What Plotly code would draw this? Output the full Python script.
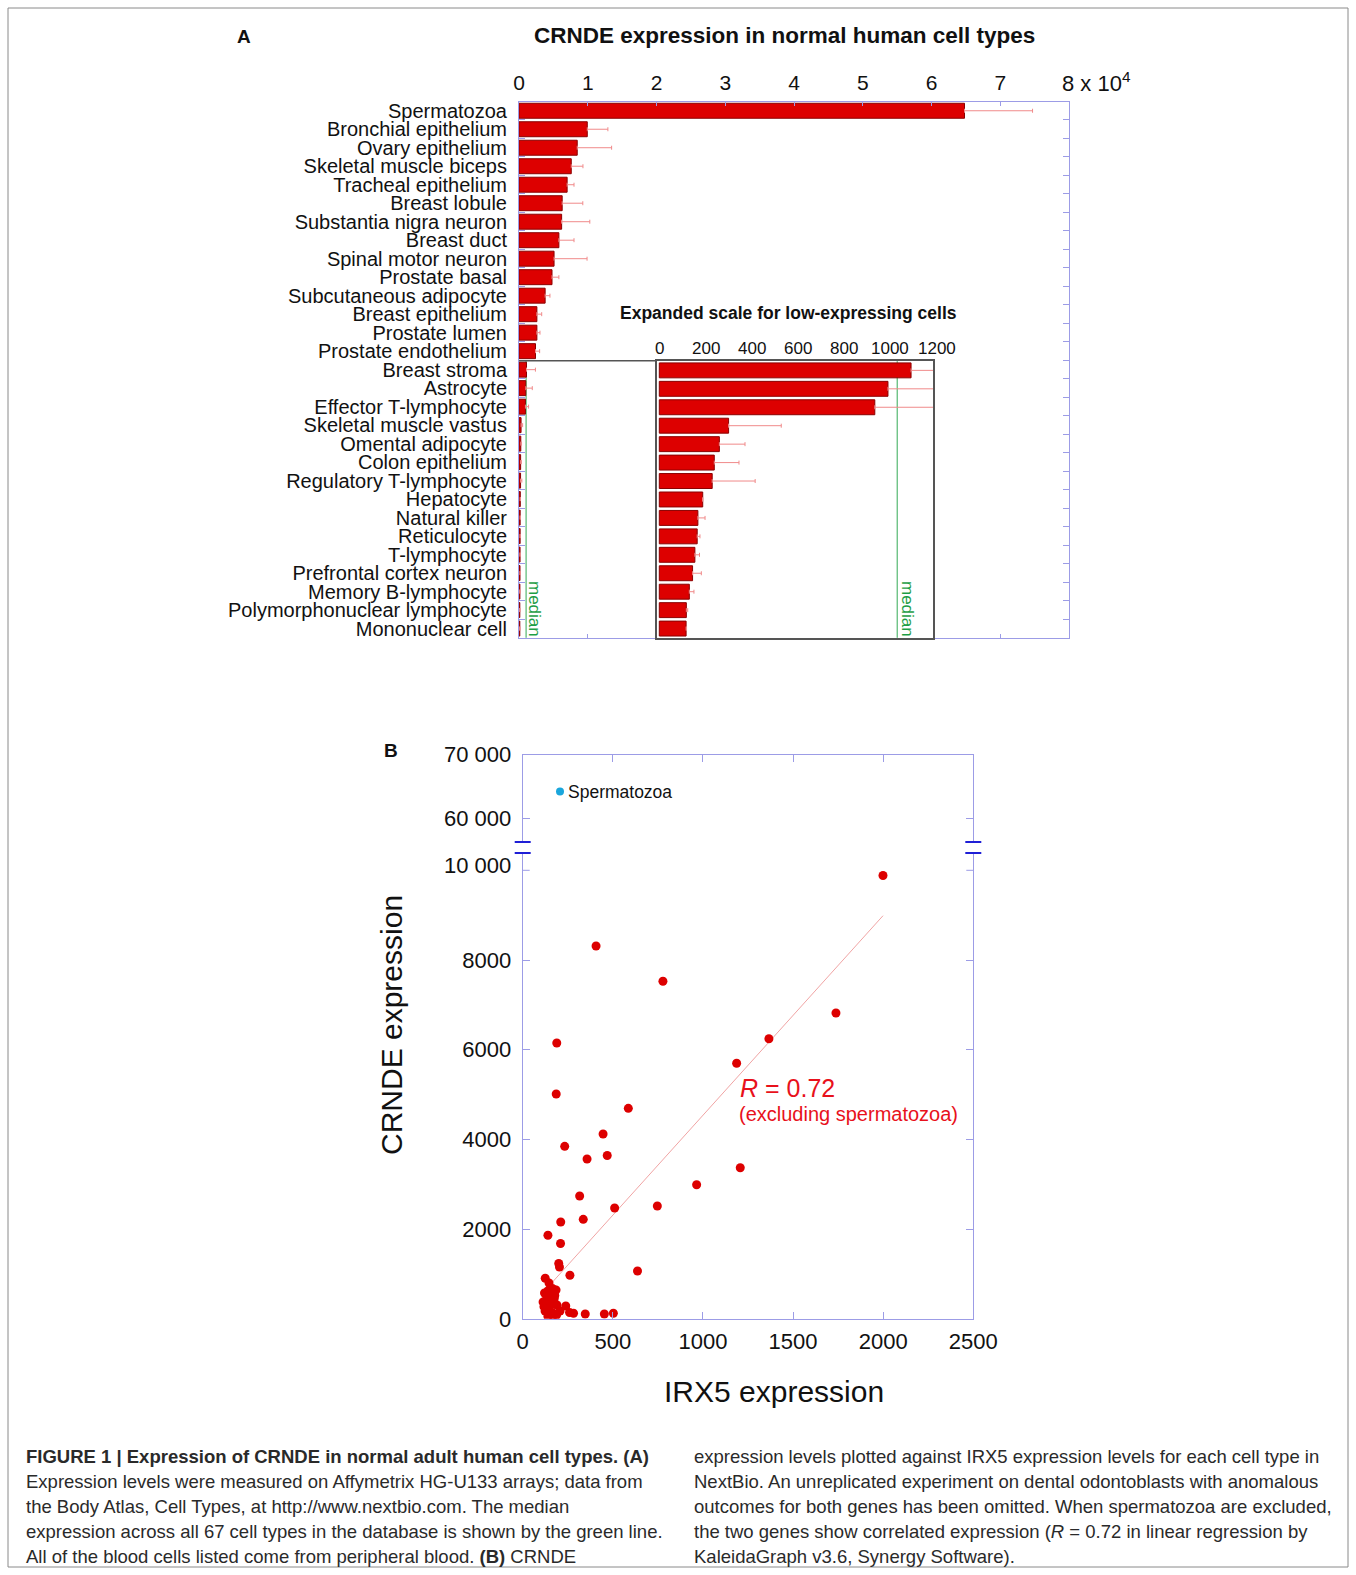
import plotly.graph_objects as go

W, H = 1356, 1575

# ---------------- data: panel A ----------------
cell_types = [
    "Spermatozoa", "Bronchial epithelium", "Ovary epithelium", "Skeletal muscle biceps",
    "Tracheal epithelium", "Breast lobule", "Substantia nigra neuron", "Breast duct",
    "Spinal motor neuron", "Prostate basal", "Subcutaneous adipocyte", "Breast epithelium",
    "Prostate lumen", "Prostate endothelium", "Breast stroma", "Astrocyte",
    "Effector T-lymphocyte", "Skeletal muscle vastus", "Omental adipocyte", "Colon epithelium",
    "Regulatory T-lymphocyte", "Hepatocyte", "Natural killer", "Reticulocyte", "T-lymphocyte",
    "Prefrontal cortex neuron", "Memory B-lymphocyte", "Polymorphonuclear lymphocyte",
    "Mononuclear cell",
]
crnde_mean = [64800, 9930, 8470, 7600, 7000, 6280, 6200, 5800, 5100, 4800, 3800, 2600,
              2600, 2400, 1090, 990, 933, 300, 260, 238, 229, 188, 167, 164, 154, 144,
              130, 117, 116]
crnde_err = [9900, 3000, 5000, 1700, 1000, 3000, 4100, 2200, 4800, 1000, 700, 700,
             450, 600, 1300, 940, 460, 228, 111, 107, 186, 0, 31, 12, 20, 38, 20, 6, 2]
median_crnde = 1030
n_high = 14  # cells not shown in expanded inset

main_ticks = [0, 10000, 20000, 30000, 40000, 50000, 60000, 70000]
main_ticktext = ["0", "1", "2", "3", "4", "5", "6", "7"]
inset_ticks = [0, 200, 400, 600, 800, 1000]
inset_ticktext = ["0", "200", "400", "600", "800", "1000"]

# ---------------- data: panel B ----------------
irx5_expr = [1999, 407, 778, 1738, 1366, 1187, 189, 186, 586, 446, 233, 357, 469, 1207,
             965, 316, 510, 747, 211, 336, 140, 210, 200, 204, 637, 125, 262, 139, 165,
             178, 132, 175, 118, 152, 138, 165, 188, 239, 260, 282, 347, 453, 503,
             146, 121, 157, 124, 190, 168, 140, 207, 113, 185, 154]
crnde_expr = [9884, 8312, 7525, 6818, 6245, 5697, 6149, 5012, 4693, 4120, 3846, 3563,
              3641, 3369, 2990, 2738, 2470, 2515, 2158, 2218, 1864, 1679, 1233, 1155,
              1066, 905, 970, 620, 676, 520, 435, 453, 270, 285, 158, 134, 85, 285, 140,
              123, 107, 107, 123, 798, 575, 397, 174, 308, 62, 51, 174, 375, 642, 508]
sperm_irx5 = [207]
sperm_crnde = [64200]
fit_irx5 = [139, 1999]
fit_crnde = [702, 8988]

scatter_xticks = [0, 500, 1000, 1500, 2000, 2500]
scatter_xticktext = ["0", "500", "1000", "1500", "2000", "2500"]
scatter_yticks_low = [0, 2000, 4000, 6000, 8000]
scatter_yticktext_low = ["0", "2000", "4000", "6000", "8000"]
scatter_ytick_top_low = 10000
scatter_yticks_high = [60000, 70000]
scatter_yticktext_high = ["60 000", "70 000"]


def px(x):
    return x / W


def py(y):
    return 1 - y / H


FONT = "Liberation Sans, Arial, Helvetica, sans-serif"
AX = "#9c9ce6"
RED = "#dd0000"
EDGE = "#8a0000"
ERR = "#f08a8a"
GREEN = "#33aa55"

fig = go.Figure()

# ---- main bar chart ----
fig.add_trace(go.Bar(
    y=cell_types, x=crnde_mean, orientation="h",
    marker=dict(color=RED, line=dict(color=EDGE, width=1)),
    error_x=dict(type="data", array=crnde_err, arrayminus=[0] * len(crnde_err),
                 symmetric=False, color=ERR, thickness=1, width=2),
    xaxis="x", yaxis="y", showlegend=False,
))

# ---- inset bar chart ----
fig.add_trace(go.Bar(
    y=cell_types[n_high:], x=crnde_mean[n_high:], orientation="h",
    marker=dict(color=RED, line=dict(color=EDGE, width=1)),
    error_x=dict(type="data", array=crnde_err[n_high:],
                 arrayminus=[0] * len(crnde_err[n_high:]),
                 symmetric=False, color=ERR, thickness=1, width=2),
    xaxis="x2", yaxis="y2", showlegend=False,
))

# ---- scatter lower segment ----
fig.add_trace(go.Scatter(
    x=fit_irx5, y=fit_crnde, mode="lines",
    line=dict(color="#f0a4a4", width=1),
    xaxis="x3", yaxis="y3", showlegend=False,
))
fig.add_trace(go.Scatter(
    x=irx5_expr, y=crnde_expr, mode="markers",
    marker=dict(color=RED, size=9, line=dict(width=0)),
    xaxis="x3", yaxis="y3", showlegend=False,
))
# ---- scatter upper segment ----
fig.add_trace(go.Scatter(
    x=sperm_irx5, y=sperm_crnde, mode="markers",
    marker=dict(color="#1aa6dc", size=8, line=dict(width=0)),
    xaxis="x4", yaxis="y4", showlegend=False,
))

main_top, main_bot = 101.5, 638.3
row_h = (main_bot - main_top) / len(cell_types)
inset_top = main_top + n_high * row_h
inset_left, inset_right = 657, 933
main_left, main_right = 519, 1069

sc_left, sc_right = 522.7, 973.3
sc_bot = 1318.8
px_per_unit_low = 0.04485
low_top = 853
up_bot, up_top = 842, 754.5
up_px_per_unit = 0.0064

tickfont_main = dict(family=FONT, size=21, color="#111")
tickfont_sc = dict(family=FONT, size=22, color="#111")

common = dict(automargin=False, showgrid=False, zeroline=False)

fig.update_layout(
    template="none",
    width=W, height=H, autosize=False,
    margin=dict(l=0, r=0, t=0, b=0, pad=0),
    paper_bgcolor="white", plot_bgcolor="white",
    font=dict(family=FONT, color="#111"),
    bargap=0.19,
    xaxis=dict(
        domain=[px(main_left), px(main_right)], range=[0, 80000], side="top",
        tickmode="array", tickvals=main_ticks, ticktext=main_ticktext,
        tickfont=tickfont_main,
        ticks="inside", ticklen=4, tickcolor=AX, showline=True, linecolor=AX,
        mirror="ticks", anchor="y", ticklabelstandoff=2, **common,
    ),
    yaxis=dict(
        domain=[py(main_bot), py(main_top)], autorange="reversed",
        type="category", tickmode="array", tickvals=cell_types, ticktext=cell_types,
        tickfont=dict(family=FONT, size=20, color="#111"),
        ticks="inside", ticklen=6, tickcolor=AX, tickson="boundaries",
        showline=True, linecolor=AX, mirror="ticks",
        anchor="x", ticklabelstandoff=7, **common,
    ),
    xaxis2=dict(
        domain=[px(inset_left), px(inset_right)], range=[-10, 1185], side="top",
        showticklabels=False,
        ticks="", ticklen=0, showline=True, linecolor="#555", linewidth=1.5, mirror=True,
        anchor="y2", **common,
    ),
    yaxis2=dict(
        domain=[py(main_bot), py(inset_top)], autorange="reversed", type="category",
        showticklabels=False, ticks="", showline=True, linecolor="#555",
        linewidth=1.5, mirror=True, anchor="x2", **common,
    ),
    xaxis3=dict(
        domain=[px(sc_left), px(sc_right)], range=[0, 2500],
        tickmode="array", tickvals=scatter_xticks, ticktext=scatter_xticktext,
        tickfont=tickfont_sc,
        ticks="inside", ticklen=7, tickcolor=AX, showline=True, linecolor=AX,
        anchor="y3", ticklabelstandoff=3, **common,
    ),
    yaxis3=dict(
        domain=[py(sc_bot), py(low_top)],
        range=[0, (sc_bot - low_top) / px_per_unit_low],
        tickmode="array", tickvals=scatter_yticks_low, ticktext=scatter_yticktext_low,
        tickfont=tickfont_sc, ticks="inside", ticklen=7, tickcolor=AX,
        showline=True, linecolor=AX, mirror="ticks",
        anchor="x3", ticklabelstandoff=6, **common,
    ),
    xaxis4=dict(
        domain=[px(sc_left), px(sc_right)], range=[0, 2500], side="top",
        tickmode="array", tickvals=scatter_xticks, showticklabels=False,
        ticks="inside", ticklen=7, tickcolor=AX, showline=True, linecolor=AX,
        anchor="y4", **common,
    ),
    yaxis4=dict(
        domain=[py(up_bot), py(up_top)],
        range=[60000 - (up_bot - 818.5) / up_px_per_unit, 70000],
        tickmode="array", tickvals=scatter_yticks_high, ticktext=scatter_yticktext_high,
        tickfont=tickfont_sc, ticks="inside", ticklen=7, tickcolor=AX,
        showline=True, linecolor=AX, mirror="ticks",
        anchor="x4", ticklabelstandoff=6, **common,
    ),
)

shapes = []
# median lines
shapes.append(dict(type="line", xref="x", yref="y", x0=median_crnde, x1=median_crnde,
                   y0=n_high - 0.5, y1=len(cell_types) - 0.5,
                   line=dict(color=GREEN, width=1), layer="below"))
shapes.append(dict(type="line", xref="x2", yref="y2", x0=median_crnde, x1=median_crnde,
                   y0=-0.5, y1=len(cell_types) - n_high - 0.5,
                   line=dict(color=GREEN, width=1), layer="below"))
# inset top line extending to main axis
shapes.append(dict(type="line", xref="paper", yref="paper", x0=px(main_left), x1=px(inset_left),
                   y0=py(inset_top), y1=py(inset_top), line=dict(color="#555", width=1.5)))
# 10 000 tick marks on the lower scatter segment (left and right, inside)
for xbase, xa, xb in ((px(sc_left), 0, 7), (px(sc_right), -7, 0)):
    shapes.append(dict(type="line", xref="paper", yref="y3",
                       x0=xbase + xa / W, x1=xbase + xb / W,
                       y0=scatter_ytick_top_low, y1=scatter_ytick_top_low,
                       line=dict(color=AX, width=1)))
# axis break marks
for yy in (up_bot, low_top):
    for (a, b) in ((sc_left - 8, sc_left + 8), (sc_right - 8, sc_right + 8)):
        shapes.append(dict(type="line", xref="paper", yref="paper", x0=px(a), x1=px(b),
                           y0=py(yy), y1=py(yy), line=dict(color="#1f1fd6", width=2)))
# figure border
shapes.append(dict(type="rect", xref="paper", yref="paper", x0=px(8), x1=px(1348),
                   y0=py(1567), y1=py(8), line=dict(color="#8a8a8a", width=1)))
fig.update_layout(shapes=shapes)

ann = []


def add_text(text, x, y, size, xanchor="center", bold=False, color="#111", angle=0,
             yanchor="middle"):
    if bold:
        text = "<b>" + text + "</b>"
    ann.append(dict(text=text, x=px(x), y=py(y), xref="paper", yref="paper",
                    xanchor=xanchor, yanchor=yanchor, showarrow=False, textangle=angle,
                    font=dict(family=FONT, size=size, color=color)))


add_text("A", 244, 37, 19, bold=True)
add_text("CRNDE expression in normal human cell types", 784, 35, 22.5, bold=True)
add_text("8 x 10<sup>4</sup>", 1060, 82, 22, xanchor="left")
add_text("Expanded scale for low-expressing cells", 788, 313, 17.5, bold=True)
# inset tick labels (placed on the inset's own x scale)
for v, t in zip(inset_ticks, inset_ticktext):
    ann.append(dict(text=t, x=v, y=py(348), xref="x2", yref="paper",
                    xanchor="center", yanchor="middle", showarrow=False,
                    font=dict(family=FONT, size=17, color="#111")))
add_text("1200", 937, 348, 17)
add_text("median", 535, 609, 17, color="#1e9e46", angle=90)
add_text("median", 908, 609, 17, color="#1e9e46", angle=90)

add_text("B", 391, 750, 19, bold=True)
add_text(f"{scatter_ytick_top_low // 1000} 000", 513, 866, 22, xanchor="right")
add_text("CRNDE expression", 391, 1025, 30, angle=-90)
add_text("IRX5 expression", 774, 1391, 30)
ann.append(dict(text="Spermatozoa", x=sperm_irx5[0], y=sperm_crnde[0], xref="x4", yref="y4",
                xanchor="left", yanchor="middle", xshift=6, showarrow=False,
                font=dict(family=FONT, size=17.5, color="#111")))
add_text("<i>R</i> = 0.72", 738, 1088, 25, xanchor="left", color="#e8111b")
add_text("(excluding spermatozoa)", 737, 1114, 20, xanchor="left", color="#e8111b")

# caption
cap_left = [
    "<b>FIGURE 1 | Expression of CRNDE in normal adult human cell types. (A)</b>",
    "Expression levels were measured on Affymetrix HG-U133 arrays; data from",
    "the Body Atlas, Cell Types, at http://www.nextbio.com. The median",
    "expression across all 67 cell types in the database is shown by the green line.",
    "All of the blood cells listed come from peripheral blood. <b>(B)</b> CRNDE",
]
cap_right = [
    "expression levels plotted against IRX5 expression levels for each cell type in",
    "NextBio. An unreplicated experiment on dental odontoblasts with anomalous",
    "outcomes for both genes has been omitted. When spermatozoa are excluded,",
    "the two genes show correlated expression (<i>R</i> = 0.72 in linear regression by",
    "KaleidaGraph v3.6, Synergy Software).",
]
for i, line in enumerate(cap_left):
    add_text(line, 24, 1456 + 25 * i, 18.5, xanchor="left", color="#2a2a2a")
for i, line in enumerate(cap_right):
    add_text(line, 692, 1456 + 25 * i, 18.5, xanchor="left", color="#2a2a2a")

fig.update_layout(annotations=ann)

fig.write_html("out.html", config={"displayModeBar": False},
               post_script="document.body.style.margin='0';")
